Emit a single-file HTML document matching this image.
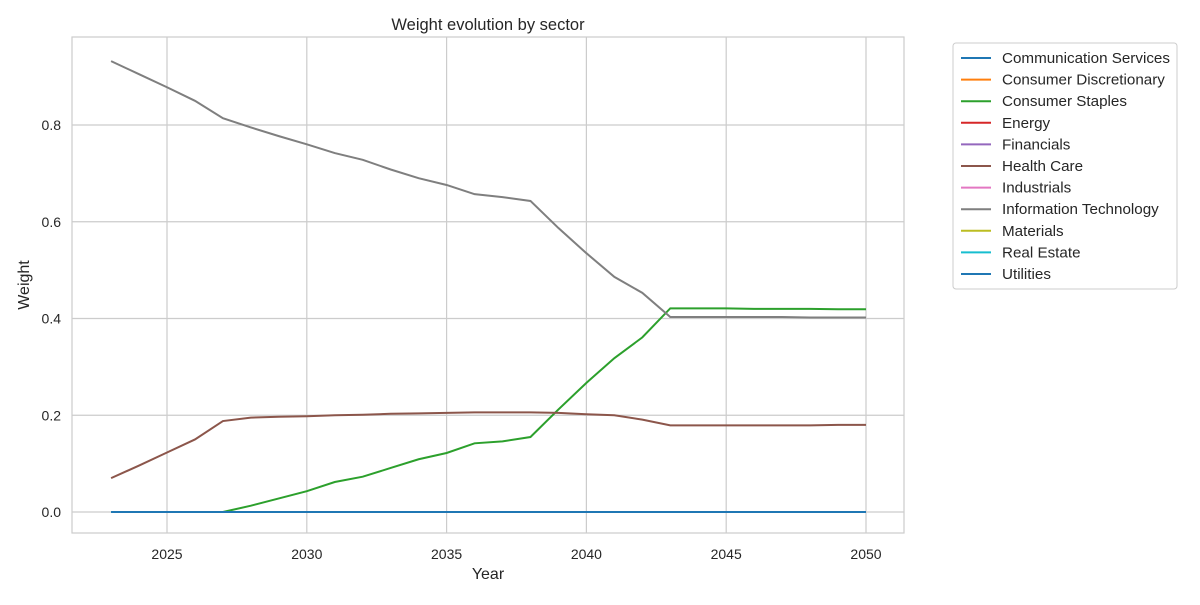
<!DOCTYPE html>
<html><head><meta charset="utf-8"><style>
body{margin:0;background:#fff;}
svg text{font-family:"Liberation Sans","DejaVu Sans",sans-serif;fill:#262626;}
</style></head><body>
<svg id="chart" width="1200" height="600" xmlns="http://www.w3.org/2000/svg">
<rect x="0" y="0" width="1200" height="600" fill="#fff"/>
<text x="488" y="30" font-size="16.5" text-anchor="middle">Weight evolution by sector</text>
<g id="grid"></g>
<rect x="72" y="37" width="832" height="496" fill="none" stroke="#ccc" stroke-width="1.2"/>
<g id="series"></g>
<text x="488" y="579" font-size="16" text-anchor="middle">Year</text>
<text x="29" y="285" font-size="16" text-anchor="middle" transform="rotate(-90 29 285)">Weight</text>
<g id="legend"></g>
</svg>
<script>
const years=[];for(let y=2023;y<=2050;y++)years.push(y);
const sectors=["Communication Services","Consumer Discretionary","Consumer Staples","Energy","Financials","Health Care","Industrials","Information Technology","Materials","Real Estate","Utilities"];
const colors=["#1f77b4","#ff7f0e","#2ca02c","#d62728","#9467bd","#8c564b","#e377c2","#7f7f7f","#bcbd22","#17becf","#1f77b4"];
const infoTech=[0.932,0.905,0.878,0.85,0.814,0.795,0.777,0.76,0.742,0.728,0.708,0.69,0.676,0.657,0.651,0.643,0.587,0.535,0.486,0.453,0.403,0.403,0.403,0.403,0.403,0.402,0.402,0.402];
const staples=[0,0,0,0,0,0.013,0.028,0.043,0.062,0.073,0.091,0.109,0.122,0.142,0.146,0.155,0.212,0.267,0.318,0.361,0.421,0.421,0.421,0.420,0.420,0.420,0.419,0.419];
const healthCare=[0.07,0.096,0.123,0.150,0.188,0.195,0.197,0.198,0.200,0.201,0.203,0.204,0.205,0.206,0.206,0.206,0.205,0.202,0.200,0.191,0.179,0.179,0.179,0.179,0.179,0.179,0.180,0.180];
const xTicks=[2025,2030,2035,2040,2045,2050];
const yTicks=[0.0,0.2,0.4,0.6,0.8];
const NS="http://www.w3.org/2000/svg";
const xs=y=>167+(y-2025)*(866-167)/25;
const ys=v=>512-v*(512-125)/0.8;
function mk(tag,attrs,parent){const e=document.createElementNS(NS,tag);for(const k in attrs)e.setAttribute(k,attrs[k]);parent.appendChild(e);return e;}
const grid=document.getElementById('grid');
xTicks.forEach(t=>{
 const l=mk('line',{x1:xs(t),x2:xs(t),y1:37,y2:533,stroke:'#ccc','stroke-width':1.2},grid);
 
 
 const tx=mk('text',{x:xs(t),y:559,'font-size':14,'text-anchor':'middle'},grid);tx.textContent=t;
 
 
});
yTicks.forEach(t=>{
 const l=mk('line',{x1:72,x2:904,y1:ys(t),y2:ys(t),stroke:'#ccc','stroke-width':1.2},grid);
 
 
 const tx=mk('text',{x:61,y:ys(t)+5,'font-size':14,'text-anchor':'end'},grid);tx.textContent=t.toFixed(1);
 
 
});
const zeros=years.map(()=>0);
const dataFor=s=>s==="Information Technology"?infoTech:s==="Consumer Staples"?staples:s==="Health Care"?healthCare:zeros;
const series=document.getElementById('series');
sectors.forEach((s,i)=>{
 const d=dataFor(s);
 const p=mk('polyline',{points:years.map((y,j)=>xs(y)+','+ys(d[j])).join(' '),fill:'none',stroke:colors[i],'stroke-width':2},series);
 
 
});
const lg=document.getElementById('legend');
const box=mk('rect',{x:953,y:43,width:224,height:246,fill:'#fff',stroke:'#ccc',rx:3},lg);


sectors.forEach((s,i)=>{
 const y=58+i*21.6;
 const l=mk('line',{x1:961,x2:991,y1:y,y2:y,stroke:colors[i],'stroke-width':2},lg);
 
 
 const t=mk('text',{x:1002,y:y+5,'font-size':15.2},lg);t.textContent=s;
 
 
});
</script>
</body></html>
